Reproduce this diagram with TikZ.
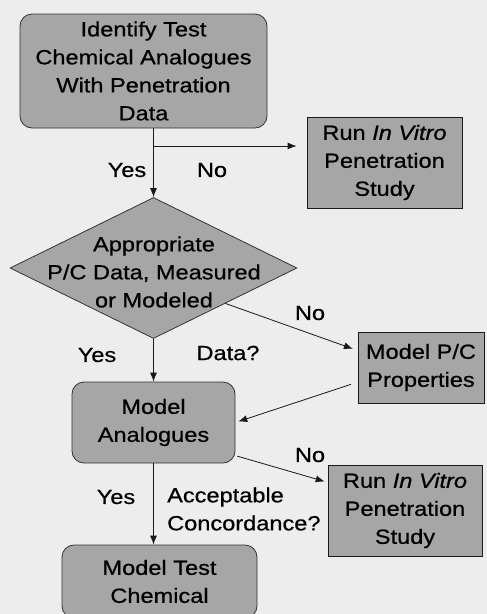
\documentclass[tikz,border=0pt]{standalone}
\usepackage{fontspec}
\setmainfont[FakeStretch=1.15,FakeBold=0.6]{Liberation Sans}
\usetikzlibrary{arrows.meta,shapes}

\begin{document}
\begin{tikzpicture}[x=1pt,y=-1pt,
  every node/.style={font=\fontsize{20.5}{28}\selectfont,inner sep=0pt},
  roundbox/.style={draw=black!80,fill=black!35,line width=0.8pt,rounded corners=12pt,align=center},
  sqbox/.style={draw=black!90,fill=black!35,line width=0.8pt,align=center},
  decision/.style={diamond,draw=black!80,fill=black!35,line width=0.8pt},
  flow/.style={-{Latex[length=9pt,width=7pt]},line width=0.8pt,black!90},
  lbl/.style={align=left}]
\useasboundingbox (0,0) rectangle (487,614);
\clip (0,0) rectangle (487,614);
\fill[black!7] (0,0) rectangle (487,614);
% boxes
\node[roundbox,minimum width=247pt,minimum height=114pt] (ident) at (143.5,71)
  {Identify Test\\Chemical Analogues\\With Penetration\\Data};
\node[sqbox,minimum width=155pt,minimum height=91pt] (runA) at (384.5,162.5)
  {Run \textit{In Vitro}\\Penetration\\Study};
\node[decision,minimum width=287pt,minimum height=141pt] (pcdata) at (153.5,268) {};
\node[align=center] (pcdatatext) at (154,272) {Appropriate\\P/C Data, Measured\\or Modeled};
\node[sqbox,minimum width=126pt,minimum height=71pt] (modelpc) at (421,367.5)
  {Model P/C\\Properties};
\node[roundbox,minimum width=163pt,minimum height=81pt] (analog) at (153.5,422.5)
  {Model\\Analogues};
\node[sqbox,minimum width=154pt,minimum height=91pt] (runB) at (405,510.5)
  {Run \textit{In Vitro}\\Penetration\\Study};
\node[roundbox,minimum width=195pt,minimum height=73pt] (modeltest) at (159.5,581.5)
  {Model Test\\Chemical};
% connectors
\coordinate (split) at (154,146);
\draw[flow] (ident.south -| pcdata.north) -- (pcdata.north);
\draw[flow,shorten >=10pt] (split) -- (runA.west |- split);
\draw[flow] (pcdata.south) -- (pcdata.south |- analog.north);
\draw[flow,shorten >=5pt] (pcdata.south east) -- (modelpc.165);
\draw[flow,shorten <=7pt,shorten >=3pt] (modelpc.193) -- (analog.east);
\draw[flow,shorten <=2pt,shorten >=3pt] (analog.-22) -- (runB.160);
\draw[flow] (analog.south) -- (analog.south |- modeltest.north);
% labels
\node (yesA) at (127,170) {Yes};
\node (noA) at (212,170) {No};
\node (noB) at (310,313) {No};
\node (yesB) at (97,355) {Yes};
\node (dataq) at (228,353) {Data?};
\node (noC) at (310,455) {No};
\node (yesC) at (116,497) {Yes};
\node[lbl,anchor=west] (concord) at (167,509) {Acceptable\\Concordance?};
\end{tikzpicture}
\end{document}
